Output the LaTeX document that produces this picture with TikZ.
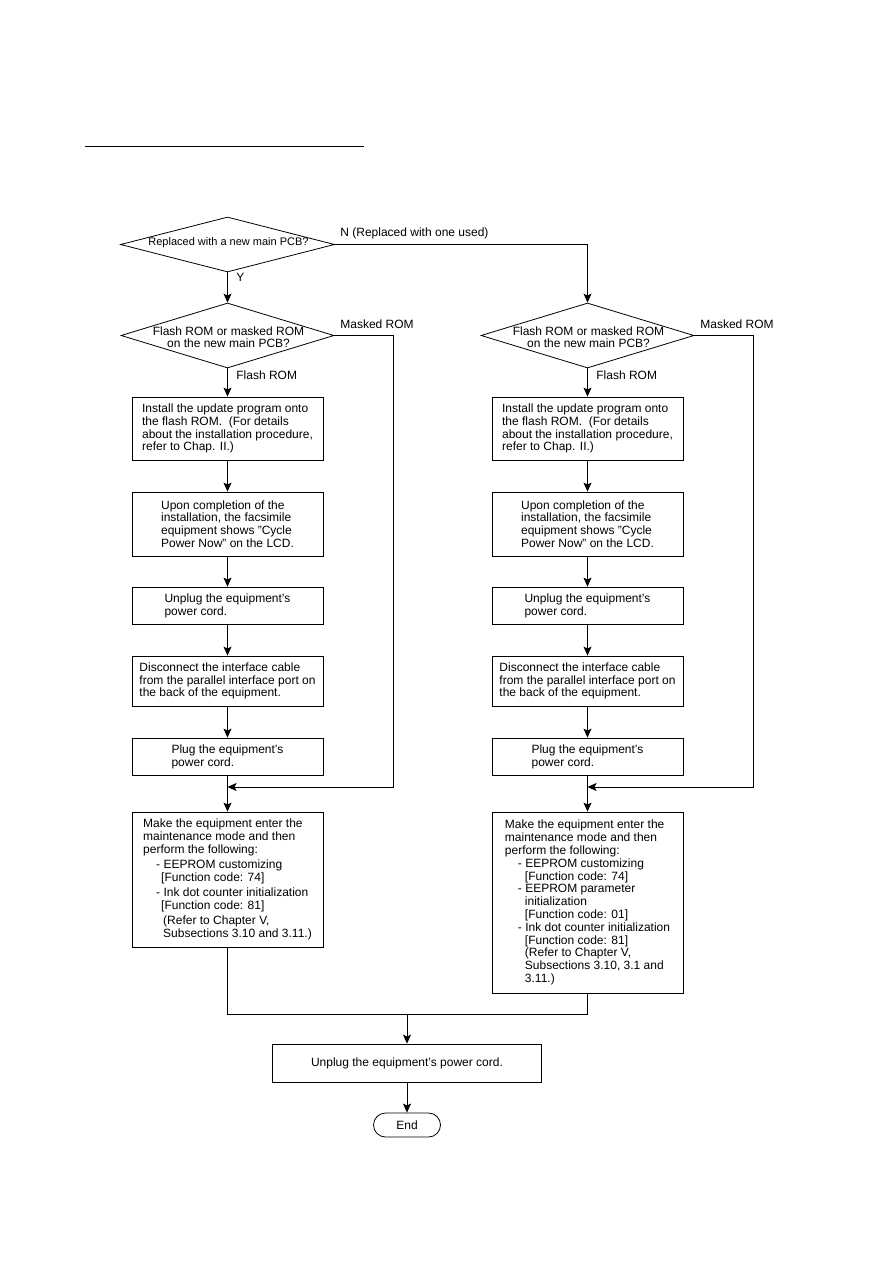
\documentclass[tikz,border=0pt]{standalone}
\usepackage{fontspec}
\setmainfont{Liberation Sans}
\usetikzlibrary{shapes.geometric,arrows.meta}
\begin{document}
\begin{tikzpicture}[x=1pt,y=-1pt,
  line width=0.8pt,
  arr/.style={-{Stealth[length=9pt,width=8pt,inset=2pt]}},
  box/.style={draw, rectangle, minimum width=191pt, inner sep=0pt, align=left, font=\fontsize{12}{12.8}\selectfont},
  dia/.style={draw, diamond, inner sep=0pt},
  dtext/.style={align=center, inner sep=0pt, font=\fontsize{12}{12.2}\selectfont},
  lbl/.style={font=\fontsize{12}{12.8}\selectfont, inner sep=0pt, anchor=west},
]
\useasboundingbox (0,0) rectangle (893,1263);
\draw[line width=1pt] (85,146) -- (364,146);

% top decision
\node[dia, minimum width=214pt, minimum height=55pt] (q1) at (227.5,244.5) {};
\node[dtext, font=\fontsize{11}{12}\selectfont] (q1t) at (228.5,243) {Replaced with a new main PCB?};

% left column
\node[dia, minimum width=213pt, minimum height=65pt] (q2) at (227.5,335.5) {};
\node[dtext] (q2t) at (228.5,337) {Flash ROM or masked ROM\\on the new main PCB?};
\node[box, minimum height=63pt] (a1) at (227.5,428.5) {Install the update program onto\\the flash ROM.\ \ (For details\\about the installation procedure,\\refer to Chap. II.)};
\node[box, minimum height=64pt] (a2) at (227.5,524) {Upon completion of the\\installation, the facsimile\\equipment shows "Cycle\\Power Now" on the LCD.};
\node[box, minimum height=37pt] (a3) at (227.5,605.5) {Unplug the equipment's\\power cord.};
\node[box, minimum height=50pt] (a4) at (227.5,681) {Disconnect the interface cable\\from the parallel interface port on\\the back of the equipment.};
\node[box, minimum height=37pt] (a5) at (227.5,756.5) {Plug the equipment's\\power cord.};
\node[box, minimum height=135pt, font=\fontsize{12}{13.3}\selectfont] (a6) at (227.5,879.5) {Make the equipment enter the\\maintenance mode and then\\perform the following:\\[1.2pt]\hspace*{13pt}- EEPROM customizing\\\hspace*{18pt}[Function code: 74]\\[1.5pt]\hspace*{13pt}- Ink dot counter initialization\\\hspace*{18pt}[Function code: 81]\\[1.5pt]\hspace*{20pt}(Refer to Chapter V,\\\hspace*{20pt}Subsections 3.10 and 3.11.)};

% right column
\node[dia, minimum width=213pt, minimum height=65pt] (r2) at (587.5,335.5) {};
\node[dtext] (r2t) at (588.5,337) {Flash ROM or masked ROM\\on the new main PCB?};
\node[box, minimum height=63pt] (b1) at (587.5,428.5) {Install the update program onto\\the flash ROM.\ \ (For details\\about the installation procedure,\\refer to Chap. II.)};
\node[box, minimum height=64pt] (b2) at (587.5,524) {Upon completion of the\\installation, the facsimile\\equipment shows "Cycle\\Power Now" on the LCD.};
\node[box, minimum height=37pt] (b3) at (587.5,605.5) {Unplug the equipment's\\power cord.};
\node[box, minimum height=50pt] (b4) at (587.5,681) {Disconnect the interface cable\\from the parallel interface port on\\the back of the equipment.};
\node[box, minimum height=37pt] (b5) at (587.5,756.5) {Plug the equipment's\\power cord.};
\node[box, minimum height=181pt] (b6) at (587.5,902.5) {Make the equipment enter the\\maintenance mode and then\\perform the following:\\\hspace*{13pt}- EEPROM customizing\\\hspace*{20pt}[Function code: 74]\\\hspace*{13pt}- EEPROM parameter\\\hspace*{20pt}initialization\\\hspace*{20pt}[Function code: 01]\\\hspace*{13pt}- Ink dot counter initialization\\\hspace*{20pt}[Function code: 81]\\\hspace*{20pt}(Refer to Chapter V,\\\hspace*{20pt}Subsections 3.10, 3.1 and\\\hspace*{20pt}3.11.)};

% bottom
\node[draw, rectangle, minimum width=269pt, minimum height=38pt, inner sep=0pt, font=\fontsize{12}{12.8}\selectfont] (fin) at (407,1063) {Unplug the equipment's power cord.};
\node[draw, rectangle, rounded corners=12pt, minimum width=67pt, minimum height=24pt, inner sep=0pt, font=\fontsize{12}{12.8}\selectfont] (end) at (407,1125) {End};

\coordinate (m1) at (227.5,787);
\coordinate (m2) at (587.5,787);
\coordinate (j) at (407,1014);

% labels
\node[lbl] (ln) at (340,233) {N (Replaced with one used)};
\node[lbl] (ly) at (236,277.5) {Y};
\node[lbl] (lm1) at (340,324) {Masked ROM};
\node[lbl] (lm2) at (700,324) {Masked ROM};
\node[lbl] (lf1) at (236,375) {Flash ROM};
\node[lbl] (lf2) at (596,375) {Flash ROM};

% connectors
\draw[arr] (q1.south) -- (q2.north);
\draw[arr] (q1.east) -| (r2.north);
\draw[arr] (q2.south) -- (a1.north);
\draw[arr] (a1.south) -- (a2.north);
\draw[arr] (a2.south) -- (a3.north);
\draw[arr] (a3.south) -- (a4.north);
\draw[arr] (a4.south) -- (a5.north);
\draw[arr] (a5.south) -- (a6.north);
\draw[arr] (r2.south) -- (b1.north);
\draw[arr] (b1.south) -- (b2.north);
\draw[arr] (b2.south) -- (b3.north);
\draw[arr] (b3.south) -- (b4.north);
\draw[arr] (b4.south) -- (b5.north);
\draw[arr] (b5.south) -- (b6.north);
\draw[arr] (q2.east) -- ++(58.5,0) |- (m1);
\draw[arr] (r2.east) -- ++(58.5,0) |- (m2);
\draw (a6.south) |- (j) -| (b6.south);
\draw[arr] (j) -- (fin.north);
\draw[arr] (fin.south) -- (end.north);
\end{tikzpicture}
\end{document}
